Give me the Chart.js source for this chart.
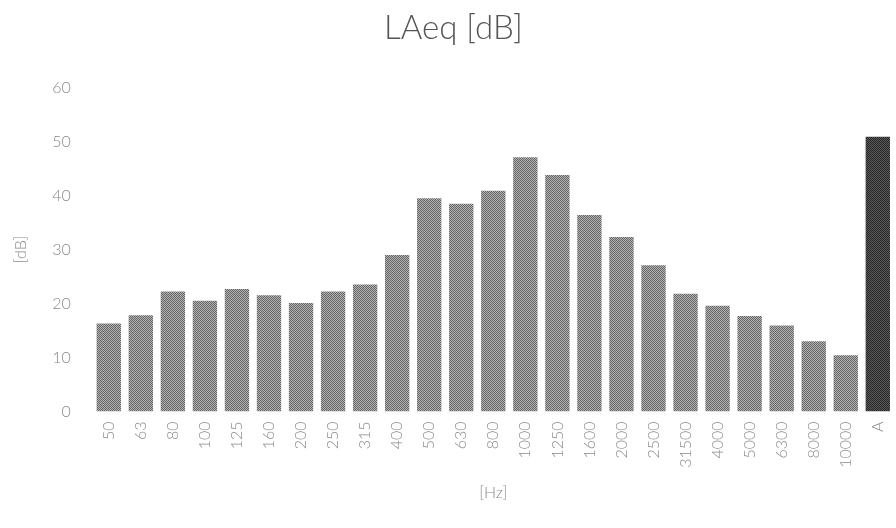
<!DOCTYPE html>
<html lang="en">
<head>
  <meta charset="UTF-8">
  <title>LAeq [dB]</title>
  <script src="https://cdn.jsdelivr.net/npm/chart.js"></script>
  <style>
    html, body {
      margin: 0;
      padding: 0;
      background: #fff;
      overflow: hidden;
      width: 896px;
      height: 528px;
    }
    #wrap {
      position: relative;
      width: 907px;
      height: 528px;
    }
  </style>
</head>
<body>
  <div id="wrap"><canvas id="laeqChart"></canvas></div>

  <script>
    // third-octave bands, last one is the A-weighted total
    const bands = ["50", "63", "80", "100", "125", "160", "200", "250", "315", "400",
      "500", "630", "800", "1000", "1250", "1600", "2000", "2500", "31500", "4000",
      "5000", "6300", "8000", "10000", "A"];
    const levels = [16.3, 17.8, 22.2, 20.5, 22.7, 21.5, 20.1, 22.2, 23.5, 29.0,
      39.5, 38.5, 40.9, 47.1, 43.8, 36.4, 32.3, 27.1, 21.8, 19.6,
      17.7, 15.9, 13.0, 10.4, 50.9];
    const yTicks = [0, 10, 20, 30, 40, 50, 60];

    // dithered grey fill like the scanned original
    function dither(light, dark) {
      const c = document.createElement("canvas");
      c.width = 2; c.height = 2;
      const g = c.getContext("2d");
      g.fillStyle = light; g.fillRect(0, 0, 2, 2);
      g.fillStyle = dark; g.fillRect(0, 0, 1, 1); g.fillRect(1, 1, 1, 1);
      return g.createPattern(c, "repeat");
    }
    const bandFill = dither("#b4b4b4", "#646464");
    const totalFill = dither("#5a5a5a", "#262626");

    const fills = bands.map(b => b === "A" ? totalFill : bandFill);
    const font = "Lato, 'Open Sans', sans-serif";

    const ctx = document.getElementById("laeqChart").getContext("2d");
    new Chart(ctx, {
      type: "bar",
      data: {
        labels: bands,
        datasets: [{
          data: levels,
          backgroundColor: fills,
          borderWidth: 0,
          barPercentage: 0.76,
          categoryPercentage: 1.0
        }]
      },
      options: {
        responsive: true,
        maintainAspectRatio: false,
        animation: false,
        layout: { padding: { left: 0, right: 0, top: 0, bottom: 26 } },
        plugins: {
          legend: { display: false },
          tooltip: { enabled: false },
          title: {
            display: true,
            text: "LAeq [dB]",
            color: "#555",
            font: { family: font, size: 33, weight: "300" },
            padding: { top: 9, bottom: 39 }
          }
        },
        scales: {
          x: {
            grid: { display: false, drawTicks: false },
            border: { display: false },
            ticks: {
              color: "#8a8a8a",
              font: { family: font, size: 16, weight: "300" },
              minRotation: 90,
              maxRotation: 90,
              autoSkip: false,
              padding: 10
            },
            title: {
              display: true,
              text: "[Hz]",
              color: "#8a8a8a",
              font: { family: font, size: 16, weight: "300" },
              padding: { top: 5, bottom: 0 }
            }
          },
          y: {
            min: 0,
            max: 60,
            grid: { display: false, drawTicks: false },
            border: { display: false },
            afterBuildTicks: axis => { axis.ticks = yTicks.map(v => ({ value: v })); },
            ticks: {
              color: "#8a8a8a",
              font: { family: font, size: 16, weight: "300" },
              padding: 22
            },
            title: {
              display: true,
              text: "[dB]",
              color: "#8a8a8a",
              font: { family: font, size: 16, weight: "300" },
              padding: { top: 11, bottom: 0 }
            }
          }
        }
      }
    });
  </script>
</body>
</html>
